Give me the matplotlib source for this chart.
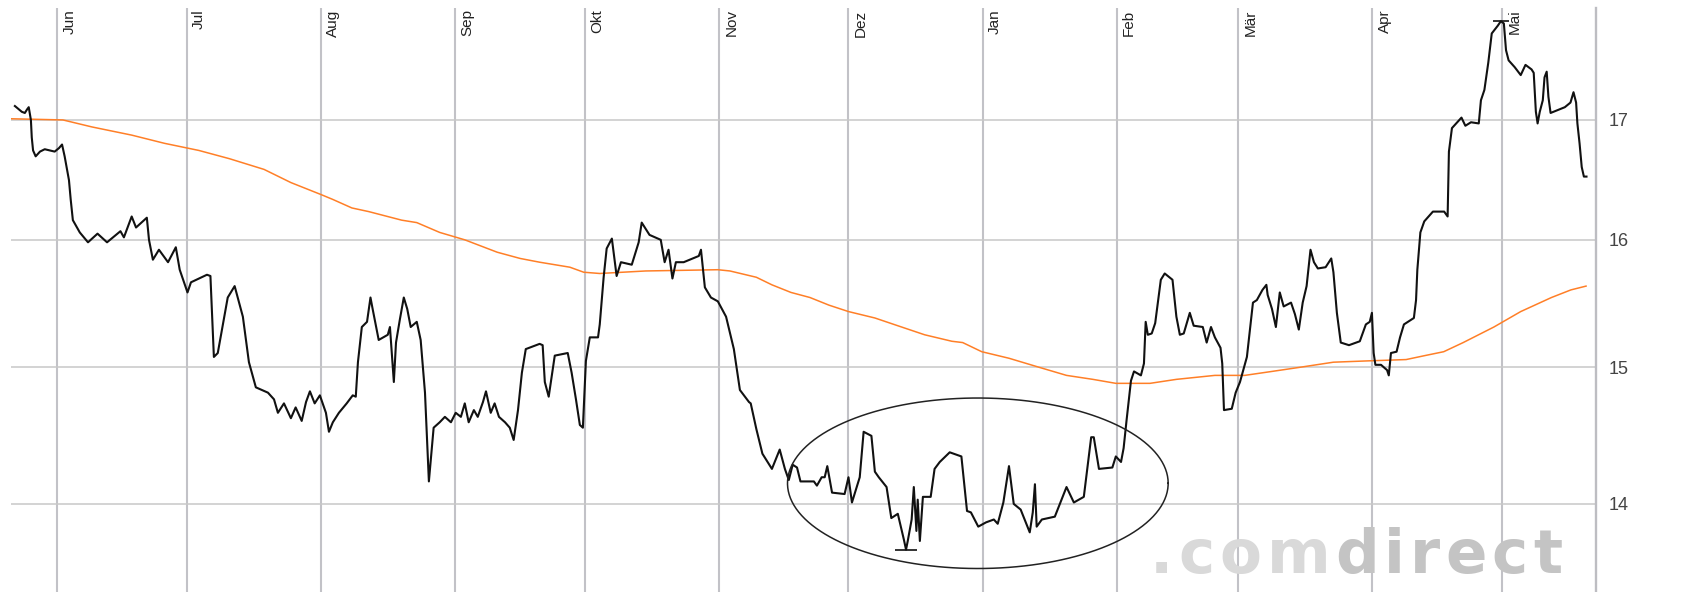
import matplotlib
matplotlib.use('Agg')
import matplotlib.pyplot as plt
import numpy as np
import pandas as pd

plt.rcParams['font.family'] = ['Liberation Sans', 'DejaVu Sans']

# x positions are calendar days after 2010-06-01
start = pd.Timestamp('2010-06-01')
months = ['Jun', 'Jul', 'Aug', 'Sep', 'Okt', 'Nov', 'Dez', 'Jan', 'Feb', 'Mär', 'Apr', 'Mai']
month_starts = pd.date_range('2010-06-01', periods=12, freq='MS')
price_levels = [14, 15, 16, 17]

# closing prices
day = [
    -9.7, -8.1, -7.4, -6.9, -6.5, -6.0, -5.8, -5.5, -4.9, -3.9, -2.8, -1.6, -0.5, 0.5, 1.2, 1.8, 2.3, 2.8, 3.2,
    3.7, 5.3, 7.2, 9.4, 11.6, 14.7, 15.5, 17.3, 18.3, 20.8, 21.3, 22.2, 23.6, 25.7, 27.5, 28.4, 30.2, 31.0,
    34.7, 35.5, 36.3, 37.2, 39.5, 41.1, 43.0, 44.4, 46.0, 48.8,
    50.2, 51.1, 52.5, 54.1, 55.2, 56.6, 57.6, 58.5, 59.6, 60.8, 62.2, 62.9, 63.8, 65.2, 67.0, 68.4, 69.1,
    69.6, 70.5, 71.7, 72.5, 73.0, 74.4, 76.5, 77.0, 77.9, 78.4, 79.3, 80.2, 81.0, 81.8, 83.2, 84.1, 85.1,
    86.0, 87.1, 88.5, 89.7, 91.1, 92.2, 93.4, 94.3, 95.2, 96.4, 97.3, 98.5, 99.2, 100.3, 101.2, 102.2,
    103.6, 104.7, 105.6, 106.6, 107.5, 108.4, 111.6, 112.3, 112.8, 113.7, 114.7, 115.1, 118.1, 119.0,
    120.0, 120.9, 121.6,
    122.3, 123.2, 125.1, 125.5, 126.4, 127.1, 128.3, 129.4, 130.4, 132.9, 134.5, 135.2, 137.0, 139.6,
    140.5, 141.4, 142.3, 143.1, 144.9, 148.4, 148.9, 149.8, 151.2, 152.8, 154.7, 156.5, 157.9,
    160.0, 160.4, 161.7, 163.1, 165.3, 167.1, 168.3, 169.2, 170.1, 171.1, 171.9, 175.0, 175.7, 176.8,
    177.5, 178.1, 179.2, 182.1, 183.0, 183.8, 185.6, 186.5, 188.3, 189.1, 190.0, 191.8, 192.9, 194.4,
    195.8, 196.3, 196.7, 197.6, 198.1, 198.7, 199.0, 199.5, 200.2, 202.0, 202.9, 204.1, 206.4, 209.1,
    210.4, 211.3, 213.0, 214.8, 216.6, 217.5, 218.8, 220.1, 221.2, 222.8, 224.9, 225.6, 226.1, 226.5,
    227.7, 230.7, 233.4, 235.1, 237.4, 239.1, 239.7, 240.9, 244.0, 244.8, 246.0, 246.6, 247.3,
    248.3, 249.0, 250.6, 251.3, 251.7, 252.2, 253.1, 253.9, 255.2, 256.1, 257.9, 258.8, 259.6, 260.5,
    261.9, 262.8, 264.9, 265.8, 266.8, 267.7, 269.0, 269.4, 269.8, 271.6, 272.5, 273.5, 275.1, 276.5,
    277.4, 278.7, 279.6, 279.9, 280.9, 281.8, 282.7, 283.6, 285.3, 286.2, 287.1, 288.0, 288.9, 289.8,
    290.6, 291.5, 293.3, 294.6, 295.1, 295.9, 296.8, 298.7, 301.2, 302.6, 303.5, 304.0, 304.4, 304.8,
    306.1, 307.5, 307.9, 308.4, 309.7, 310.5, 311.4, 313.7, 314.2, 314.5, 315.2, 316.1, 318.1, 320.7,
    321.5, 321.8, 322.5, 324.7, 325.6, 326.9, 328.7, 329.2, 330.0, 330.9, 331.7, 333.1, 333.8, 334.5,
    335.0, 335.6, 337.0, 338.4, 339.5, 340.9, 341.4, 341.9, 342.3, 342.8, 343.5, 343.9, 344.4, 344.8,
    345.3, 348.6, 349.9, 350.6, 351.2, 351.5, 352.0, 352.5, 353.0, 353.6,
]
close = [
    17.12, 17.07, 17.06, 17.09, 17.11, 17.00, 16.85, 16.74, 16.69, 16.73, 16.75, 16.74, 16.73, 16.76, 16.79, 16.69, 16.59, 16.49, 16.33,
    16.16, 16.06, 15.98, 16.05, 15.98, 16.07, 16.02, 16.19, 16.10, 16.18, 16.00, 15.84, 15.92, 15.82, 15.94, 15.76, 15.58, 15.66,
    15.72, 15.71, 15.08, 15.11, 15.54, 15.63, 15.39, 15.04, 14.85, 14.81,
    14.76, 14.66, 14.73, 14.62, 14.70, 14.60, 14.74, 14.82, 14.73, 14.79, 14.66, 14.52, 14.59, 14.66, 14.73, 14.79, 14.78,
    15.04, 15.31, 15.35, 15.54, 15.45, 15.21, 15.25, 15.31, 14.89, 15.19, 15.37, 15.54, 15.45, 15.31, 15.35, 15.21, 14.81,
    14.16, 14.55, 14.59, 14.63, 14.59, 14.66, 14.63, 14.73, 14.59, 14.68, 14.63, 14.74, 14.82, 14.66, 14.73, 14.63,
    14.59, 14.55, 14.46, 14.68, 14.96, 15.14, 15.18, 15.17, 14.89, 14.78, 15.00, 15.09, 15.11, 14.96,
    14.76, 14.57, 14.55,
    15.05, 15.23, 15.23, 15.33, 15.70, 15.93, 16.01, 15.71, 15.82, 15.80, 15.98, 16.14, 16.04, 16.00,
    15.82, 15.92, 15.69, 15.82, 15.82, 15.87, 15.92, 15.62, 15.54, 15.51, 15.39, 15.14, 14.83,
    14.74, 14.73, 14.54, 14.36, 14.25, 14.39, 14.25, 14.17, 14.28, 14.26, 14.16, 14.16, 14.13, 14.19,
    14.19, 14.27, 14.08, 14.07, 14.19, 14.01, 14.19, 14.52, 14.49, 14.23, 14.19, 14.12, 13.90, 13.93,
    13.75, 13.68, 13.74, 13.89, 14.12, 13.81, 14.03, 13.74, 14.05, 14.05, 14.25, 14.30, 14.37, 14.34,
    13.95, 13.94, 13.84, 13.87, 13.89, 13.86, 14.01, 14.27, 14.00, 13.96, 13.80, 13.94, 14.14, 13.84,
    13.89, 13.91, 14.12, 14.01, 14.05, 14.48, 14.48, 14.25, 14.26, 14.34, 14.30, 14.40, 14.61,
    14.90, 14.97, 14.94, 15.03, 15.35, 15.25, 15.26, 15.34, 15.68, 15.73, 15.68, 15.39, 15.25, 15.26,
    15.42, 15.32, 15.31, 15.19, 15.31, 15.23, 15.15, 15.03, 14.68, 14.69, 14.81, 14.89, 15.08, 15.50,
    15.52, 15.60, 15.64, 15.56, 15.45, 15.31, 15.58, 15.47, 15.50, 15.41, 15.29, 15.50, 15.63, 15.92,
    15.82, 15.77, 15.78, 15.85, 15.74, 15.42, 15.19, 15.17, 15.20, 15.33, 15.35, 15.42, 15.11, 15.02,
    15.02, 14.98, 14.94, 15.11, 15.12, 15.23, 15.33, 15.38, 15.52, 15.76, 16.06, 16.15, 16.23, 16.23,
    16.19, 16.73, 16.93, 17.02, 16.95, 16.98, 16.97, 17.17, 17.26, 17.50, 17.76, 17.83, 17.87, 17.85,
    17.61, 17.52, 17.46, 17.39, 17.48, 17.44, 17.41, 17.07, 16.97, 17.07, 17.17, 17.37, 17.42, 17.20,
    17.06, 17.11, 17.15, 17.24, 17.15, 16.97, 16.80, 16.60, 16.52, 16.52,
]

# 200-day moving average
ma_day = [
    -10.5, 1.4, 8.1, 17.3, 24.9, 32.8, 39.9, 47.9, 54.1, 61.1, 63.8, 68.2, 72.1, 79.7, 83.2, 88.5,
    94.3, 101.8, 107.1, 111.6, 118.6, 121.8, 125.5, 136.1, 152.8, 155.6, 161.7, 165.3, 169.7, 174.1,
    178.5, 183.0, 189.1, 193.5, 200.6, 206.9, 209.4, 213.8, 220.1, 227.2, 233.4, 239.5, 244.8, 247.7,
    252.7, 258.8, 267.7, 274.6, 280.9, 287.1, 295.1, 303.1, 311.9, 316.2, 320.6, 325.1, 332.2, 338.4,
    345.5, 350.0, 353.5,
]
ma200 = [
    17.01, 17.00, 16.94, 16.87, 16.80, 16.74, 16.67, 16.58, 16.47, 16.37, 16.33, 16.26, 16.23, 16.16, 16.14, 16.06,
    16.00, 15.90, 15.85, 15.82, 15.78, 15.74, 15.73, 15.75, 15.76, 15.75, 15.70, 15.64, 15.58, 15.54,
    15.48, 15.43, 15.38, 15.33, 15.25, 15.20, 15.19, 15.12, 15.07, 15.00, 14.94, 14.91, 14.88, 14.88,
    14.88, 14.91, 14.94, 14.94, 14.97, 15.00, 15.04, 15.05, 15.06, 15.09, 15.12, 15.19, 15.31, 15.43,
    15.54, 15.60, 15.63,
]

# hand drawn oval round the Dec/Jan bottom
oval_mid = 212.9
oval_halfwidth = 44.0
oval_top, oval_bottom = 14.77, 13.55

wm_words = ['.com', 'direct']
wm_colors = ['#d9d9d9', '#c4c4c4']


def to_dates(d):
    return np.array(start + pd.to_timedelta(np.asarray(d, dtype=float), unit='D'))


W, H = 1702, 592
fig = plt.figure(figsize=(W / 100, H / 100), dpi=100)
ax = fig.add_axes([11 / W, 0, 1585 / W, 584 / H])

ax.set_yscale('log')
ax.set_xlim(to_dates([-10.6, 355.8]))
ax.set_ylim(13.39, 17.99)

ax.set_xticks(month_starts)
ax.set_xticklabels([])
ax.set_yticks(price_levels)
ax.set_yticklabels([str(p) for p in price_levels], fontsize=13, color='#444444')
ax.yaxis.set_minor_locator(matplotlib.ticker.NullLocator())
ax.yaxis.tick_right()
ax.tick_params(axis='both', length=0)
ax.tick_params(axis='y', pad=9)
ax.grid(axis='x', color='#c2c2c7', lw=1.5)
ax.grid(axis='y', color='#c8c8c8', lw=1.1)
ax.set_axisbelow(True)
for s in ('top', 'left', 'bottom'):
    ax.spines[s].set_visible(False)
ax.spines['right'].set_color('#bdbdc2')
ax.spines['right'].set_linewidth(1.7)

for m, name in zip(month_starts, months):
    ax.annotate(name, xy=(m, 1), xycoords=('data', 'axes fraction'),
                xytext=(4, -1), textcoords='offset points',
                rotation=90, ha='left', va='top', fontsize=11, color='#222222')

ax.plot(to_dates(ma_day), ma200, color='#ff7f27', lw=1.1, zorder=3)
ax.plot(to_dates(day), close, color='#111111', lw=1.5, zorder=4)

# min / max markers
close_arr = np.array(close)
i_lo, i_hi = close_arr.argmin(), close_arr.argmax()
ax.hlines(close_arr[i_lo], to_dates(day[i_lo] - 2.5), to_dates(day[i_lo] + 2.5), color='#111111', lw=1.2, zorder=4)
ax.hlines(close_arr[i_hi], to_dates(day[i_hi] - 1.8), to_dates(day[i_hi] + 1.8), color='#111111', lw=1.2, zorder=4)

t = np.linspace(0, 2 * np.pi, 300)
lmid = (np.log(oval_top) + np.log(oval_bottom)) / 2
lhalf = (np.log(oval_top) - np.log(oval_bottom)) / 2
ax.plot(to_dates(oval_mid + oval_halfwidth * np.cos(t)), np.exp(lmid + lhalf * np.sin(t)),
        color='#222222', lw=1.1, zorder=5)

# watermark, letter by letter for the wide spacing
fig.canvas.draw()
renderer = fig.canvas.get_renderer()
x_px = 1150
for word, col in zip(wm_words, wm_colors):
    for ch in word:
        txt = fig.text(x_px / W, 19 / H, ch, fontsize=44, fontweight='bold', family='DejaVu Sans',
                       color=col, ha='left', va='baseline', zorder=1)
        x_px = txt.get_window_extent(renderer).x1 + 5

fig.savefig('out.png', dpi=100)
